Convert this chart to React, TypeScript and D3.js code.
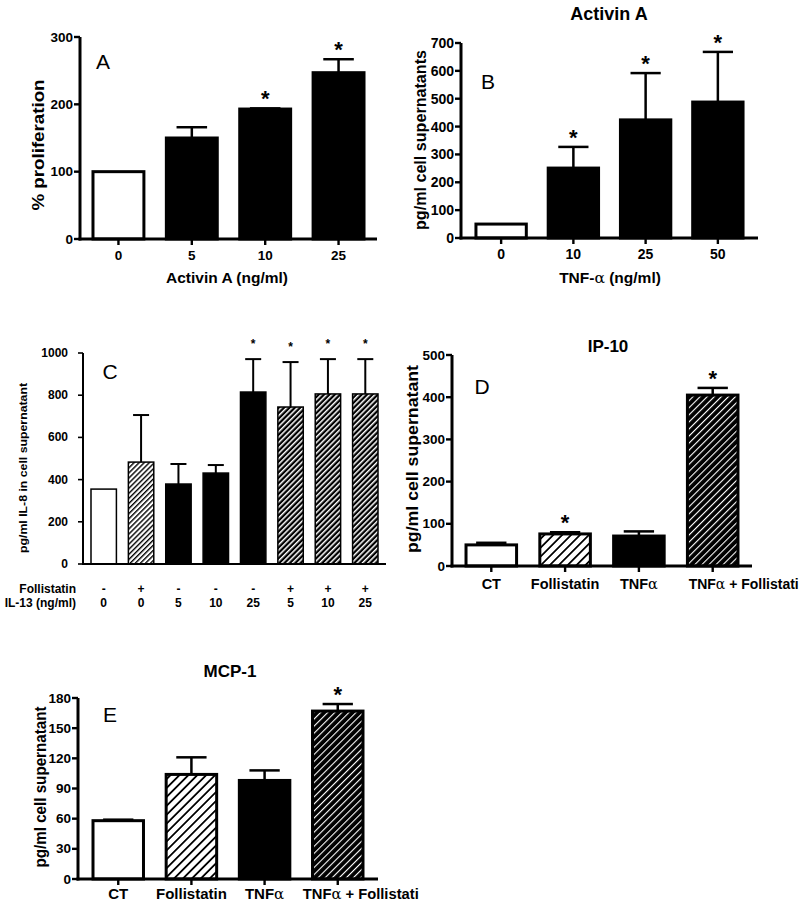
import React from 'react';
import * as d3 from 'd3';

// ---- data ----
// A: proliferation vs Activin A
const catsA = ['0', '5', '10', '25'];
const valsA = [100, 150, 193, 247];
const semA = [0, 16, 1, 20];
const starsA = [false, false, true, true];
const fillsA = ['white', 'black', 'black', 'black'];
const ticksA = [0, 100, 200, 300];

// B: Activin A secretion vs TNF-a
const catsB = ['0', '10', '25', '50'];
const valsB = [50, 251, 424, 488];
const semB = [0, 76, 168, 180];
const starsB = [false, true, true, true];
const fillsB = ['white', 'black', 'black', 'black'];
const ticksB = [0, 100, 200, 300, 400, 500, 600, 700];

// C: IL-8, follistatin / IL-13
const follistatinC = ['-', '+', '-', '-', '-', '+', '+', '+'];
const il13C = ['0', '0', '5', '10', '25', '5', '10', '25'];
const valsC = [355, 483, 379, 431, 815, 744, 806, 806];
const semC = [0, 223, 95, 38, 156, 213, 165, 165];
const starsC = [false, false, false, false, true, true, true, true];
const fillsC = ['white', 'cHatch', 'black', 'black', 'black', 'cHatchDark', 'cHatchDark', 'cHatchDark'];
const ticksC = [0, 200, 400, 600, 800, 1000];

// D: IP-10 (last label is cut short in the source figure)
const catsD = ['CT', 'Follistatin', 'TNFα', 'TNFα + Follistati'];
const valsD = [50, 76, 71, 405];
const semD = [5, 4, 11, 17];
const starsD = [false, true, false, true];
const fillsD = ['white', 'hatch', 'black', 'hatchDark'];
const ticksD = [0, 100, 200, 300, 400, 500];

// E: MCP-1
const catsE = ['CT', 'Follistatin', 'TNFα', 'TNFα + Follistati'];
const valsE = [58, 104, 98, 167];
const semE = [1, 17, 10, 7];
const starsE = [false, false, false, true];
const fillsE = ['white', 'hatch', 'black', 'hatchDark'];
const ticksE = [0, 30, 60, 90, 120, 150, 180];

const SANS = '"Liberation Sans", Arial, Helvetica, sans-serif';
const NARROW = '"Liberation Sans Narrow", "Arial Narrow", "Liberation Sans", Arial, sans-serif';

const fillUrl = (f: string) => (f === 'white' ? '#fff' : f === 'black' ? '#000' : `url(#${f})`);

interface Layout {
  x0: number; x1: number; yBase: number; yTop: number; max: number;
  padIn: number; padOut: number;
  axisW: number; barStroke: number; errW: number; capFrac: number;
  tickLen: number; tickFont: number; tickFamily: string; tickGap: number;
  starSize: number; starDy: number; xTicks: boolean;
}

interface Series {
  keys: string[]; values: number[]; sem: number[]; stars: boolean[]; fills: string[]; ticks: number[];
}

const BarPanel: React.FC<{ s: Series; l: Layout; children?: (x: d3.ScaleBand<string>, y: d3.ScaleLinear<number, number>) => React.ReactNode }> = ({ s, l, children }) => {
  const keys = s.keys.map((k, i) => `${i}:${k}`);
  const x = d3.scaleBand<string>().domain(keys).range([l.x0, l.x1]).paddingInner(l.padIn).paddingOuter(l.padOut);
  const y = d3.scaleLinear().domain([0, l.max]).range([l.yBase, l.yTop]);
  const bw = x.bandwidth();
  return (
    <g>
      {keys.map((k, i) => (
        <rect key={'b' + k} x={x(k)!} y={y(s.values[i])} width={bw} height={l.yBase - y(s.values[i])}
          fill={fillUrl(s.fills[i])} stroke="#000" strokeWidth={l.barStroke} />
      ))}
      {keys.map((k, i) => {
        if (!s.sem[i]) return null;
        const cx = x(k)! + bw / 2;
        const top = y(s.values[i] + s.sem[i]);
        const cap = bw * l.capFrac / 2;
        return (
          <g key={'e' + k} stroke="#000" strokeWidth={l.errW}>
            <line x1={cx} x2={cx} y1={y(s.values[i])} y2={top} />
            <line x1={cx - cap} x2={cx + cap} y1={top} y2={top} />
          </g>
        );
      })}
      {keys.map((k, i) => s.stars[i] ? (
        <text key={'s' + k} x={x(k)! + bw / 2} y={y(s.values[i] + s.sem[i]) - l.starDy} textAnchor="middle"
          fontFamily={SANS} fontWeight="bold" fontSize={l.starSize}>*</text>
      ) : null)}
      {/* axes */}
      <line x1={l.x0} x2={l.x0} y1={l.yBase + l.axisW / 2} y2={y(l.max)} stroke="#000" strokeWidth={l.axisW} />
      <line x1={l.x0 - l.axisW / 2} x2={l.x1} y1={l.yBase} y2={l.yBase} stroke="#000" strokeWidth={l.axisW} />
      {s.ticks.map(t => (
        <g key={'t' + t}>
          <line x1={l.x0 - l.tickLen} x2={l.x0} y1={y(t)} y2={y(t)} stroke="#000" strokeWidth={l.axisW * 0.8} />
          <text x={l.x0 - l.tickLen - l.tickGap} y={y(t)} textAnchor="end" dominantBaseline="central"
            fontFamily={l.tickFamily} fontWeight="bold" fontSize={l.tickFont}>{t}</text>
        </g>
      ))}
      {l.xTicks && keys.map(k => (
        <line key={'xt' + k} x1={x(k)! + bw / 2} x2={x(k)! + bw / 2} y1={l.yBase} y2={l.yBase + l.tickLen}
          stroke="#000" strokeWidth={l.axisW * 0.8} />
      ))}
      {children && children(x, y)}
    </g>
  );
};

const YLabel: React.FC<{ x: number; y: number; len: number; size: number; family?: string; text: string }> = ({ x, y, len, size, family, text }) => (
  <text transform={`translate(${x},${y}) rotate(-90)`} textAnchor="middle" dominantBaseline="central"
    fontFamily={family || SANS} fontWeight="bold" fontSize={size} textLength={len} lengthAdjust="spacingAndGlyphs">{text}</text>
);

const Letter: React.FC<{ x: number; y: number; t: string }> = ({ x, y, t }) => (
  <text x={x} y={y} textAnchor="middle" fontFamily={SANS} fontSize={21}>{t}</text>
);

const Alpha: React.FC = () => <tspan fontFamily='"DejaVu Serif", serif' fontWeight="normal">α</tspan>;

const catLabel = (k: string) => {
  const parts = k.split('α');
  if (parts.length === 1) return k;
  return (<>{parts[0]}<Alpha />{parts.slice(1).join('α')}</>);
};

const base: Omit<Layout, 'x0' | 'x1' | 'yBase' | 'yTop' | 'max' | 'padIn' | 'padOut'> = {
  axisW: 3, barStroke: 3, errW: 2.5, capFrac: 0.6, tickLen: 6, tickFont: 13.5, tickFamily: SANS, tickGap: 1,
  starSize: 22, starDy: 2, xTicks: true,
};

const layA: Layout = { ...base, x0: 80, x1: 377, yBase: 239, yTop: 37, max: 300, padIn: 0.306, padOut: 0.177 };
const layB: Layout = { ...base, x0: 461, x1: 758, yBase: 238, yTop: 43, max: 700, padIn: 0.303, padOut: 0.207, tickFont: 14 };
const layC: Layout = {
  ...base, x0: 83, x1: 386, yBase: 564, yTop: 353, max: 1000, padIn: 0.32, padOut: 0.214,
  axisW: 2, barStroke: 1.5, errW: 2, capFrac: 0.63, tickLen: 5, tickFont: 12, tickFamily: NARROW, tickGap: 10,
  starSize: 12, starDy: 11, xTicks: false,
};
const layD: Layout = { ...base, x0: 452, x1: 752, yBase: 566, yTop: 355, max: 500, padIn: 0.315, padOut: 0.19 };
const layE: Layout = { ...base, x0: 78, x1: 378, yBase: 879, yTop: 698, max: 180, padIn: 0.31, padOut: 0.205 };

const Patterns: React.FC = () => (
  <defs>
    <pattern id="hatch" patternUnits="userSpaceOnUse" width={6.3} height={6.3} patternTransform="rotate(45)">
      <rect width={6.3} height={6.3} fill="#fff" />
      <rect width={1.8} height={6.3} fill="#000" />
    </pattern>
    <pattern id="hatchDark" patternUnits="userSpaceOnUse" width={5} height={5} patternTransform="rotate(45)">
      <rect width={5} height={5} fill="#000" />
      <rect width={1.1} height={5} fill="#fff" />
    </pattern>
    <pattern id="cHatch" patternUnits="userSpaceOnUse" width={3.6} height={3.6} patternTransform="rotate(45)">
      <rect width={3.6} height={3.6} fill="#fff" />
      <rect width={1.4} height={3.6} fill="#000" />
    </pattern>
    <pattern id="cHatchDark" patternUnits="userSpaceOnUse" width={3.8} height={3.8} patternTransform="rotate(45)">
      <rect width={3.8} height={3.8} fill="#000" />
      <rect width={1.5} height={3.8} fill="#fff" />
    </pattern>
  </defs>
);

export default function App() {
  return (
    <div style={{ position: 'absolute', left: 0, top: 0, width: 800, height: 905, background: '#fff' }}>
      <svg width={800} height={905} style={{ display: 'block' }}>
        <Patterns />
        <rect width={800} height={905} fill="#fff" />

        {/* A */}
        <BarPanel s={{ keys: catsA, values: valsA, sem: semA, stars: starsA, fills: fillsA, ticks: ticksA }} l={layA}>
          {(x) => catsA.map((c, i) => {
            const k = `${i}:${c}`;
            return <text key={k} x={x(k)! + x.bandwidth() / 2} y={260} textAnchor="middle" fontFamily={SANS} fontWeight="bold" fontSize={13.5}>{c}</text>;
          })}
        </BarPanel>
        <Letter x={103} y={69} t="A" />
        <YLabel x={38} y={145} len={131} size={16} text="% proliferation" />
        <text x={227} y={283} textAnchor="middle" fontFamily={SANS} fontWeight="bold" fontSize={15.5}>Activin A (ng/ml)</text>

        {/* B */}
        <text x={609} y={20} textAnchor="middle" fontFamily={SANS} fontWeight="bold" fontSize={18}>Activin A</text>
        <BarPanel s={{ keys: catsB, values: valsB, sem: semB, stars: starsB, fills: fillsB, ticks: ticksB }} l={layB}>
          {(x) => catsB.map((c, i) => {
            const k = `${i}:${c}`;
            return <text key={k} x={x(k)! + x.bandwidth() / 2} y={259} textAnchor="middle" fontFamily={SANS} fontWeight="bold" fontSize={14}>{c}</text>;
          })}
        </BarPanel>
        <Letter x={488} y={89} t="B" />
        <YLabel x={420} y={140} len={180} size={16} text="pg/ml cell supernatants" />
        <text x={610} y={283} textAnchor="middle" fontFamily={SANS} fontWeight="bold" fontSize={15.5}>TNF-<Alpha /> (ng/ml)</text>

        {/* C */}
        <BarPanel s={{ keys: il13C, values: valsC, sem: semC, stars: starsC, fills: fillsC, ticks: ticksC }} l={layC}>
          {(x) => il13C.map((c, i) => {
            const k = `${i}:${c}`;
            const cx = x(k)! + x.bandwidth() / 2;
            return (
              <g key={k} fontFamily={NARROW} fontWeight="bold" fontSize={12} textAnchor="middle">
                <text x={cx} y={593}>{follistatinC[i]}</text>
                <text x={cx} y={607}>{c}</text>
              </g>
            );
          })}
        </BarPanel>
        <text x={76} y={593} textAnchor="end" fontFamily={NARROW} fontWeight="bold" fontSize={12}>Follistatin</text>
        <text x={76} y={607} textAnchor="end" fontFamily={NARROW} fontWeight="bold" fontSize={12}>IL-13 (ng/ml)</text>
        <Letter x={110} y={379} t="C" />
        <YLabel x={23} y={468} len={170} size={11} family={NARROW} text="pg/ml IL-8 in cell supernatant" />

        {/* D */}
        <text x={608} y={352} textAnchor="middle" fontFamily={SANS} fontWeight="bold" fontSize={17}>IP-10</text>
        <BarPanel s={{ keys: catsD, values: valsD, sem: semD, stars: starsD, fills: fillsD, ticks: ticksD }} l={layD}>
          {(x) => catsD.map((c, i) => {
            const k = `${i}:${c}`;
            const cx = x(k)! + x.bandwidth() / 2;
            const last = i === catsD.length - 1;
            return last
              ? <text key={k} x={cx - 24} y={589} textAnchor="start" fontFamily={SANS} fontWeight="bold" fontSize={14.5} textLength={110} lengthAdjust="spacingAndGlyphs">{catLabel(c)}</text>
              : <text key={k} x={cx} y={589} textAnchor="middle" fontFamily={SANS} fontWeight="bold" fontSize={14.5}>{catLabel(c)}</text>;
          })}
        </BarPanel>
        <Letter x={482} y={394} t="D" />
        <YLabel x={412} y={459} len={188} size={17} text="pg/ml cell supernatant" />

        {/* E */}
        <text x={230} y={677} textAnchor="middle" fontFamily={SANS} fontWeight="bold" fontSize={17}>MCP-1</text>
        <BarPanel s={{ keys: catsE, values: valsE, sem: semE, stars: starsE, fills: fillsE, ticks: ticksE }} l={layE}>
          {(x) => catsE.map((c, i) => {
            const k = `${i}:${c}`;
            const cx = x(k)! + x.bandwidth() / 2;
            const last = i === catsE.length - 1;
            return last
              ? <text key={k} x={cx - 35} y={899} textAnchor="start" fontFamily={SANS} fontWeight="bold" fontSize={15} textLength={116} lengthAdjust="spacingAndGlyphs">{catLabel(c)}</text>
              : <text key={k} x={cx} y={899} textAnchor="middle" fontFamily={SANS} fontWeight="bold" fontSize={15}>{catLabel(c)}</text>;
          })}
        </BarPanel>
        <Letter x={110} y={722} t="E" />
        <YLabel x={40} y={787} len={161} size={16} text="pg/ml cell supernatant" />
      </svg>
    </div>
  );
}
